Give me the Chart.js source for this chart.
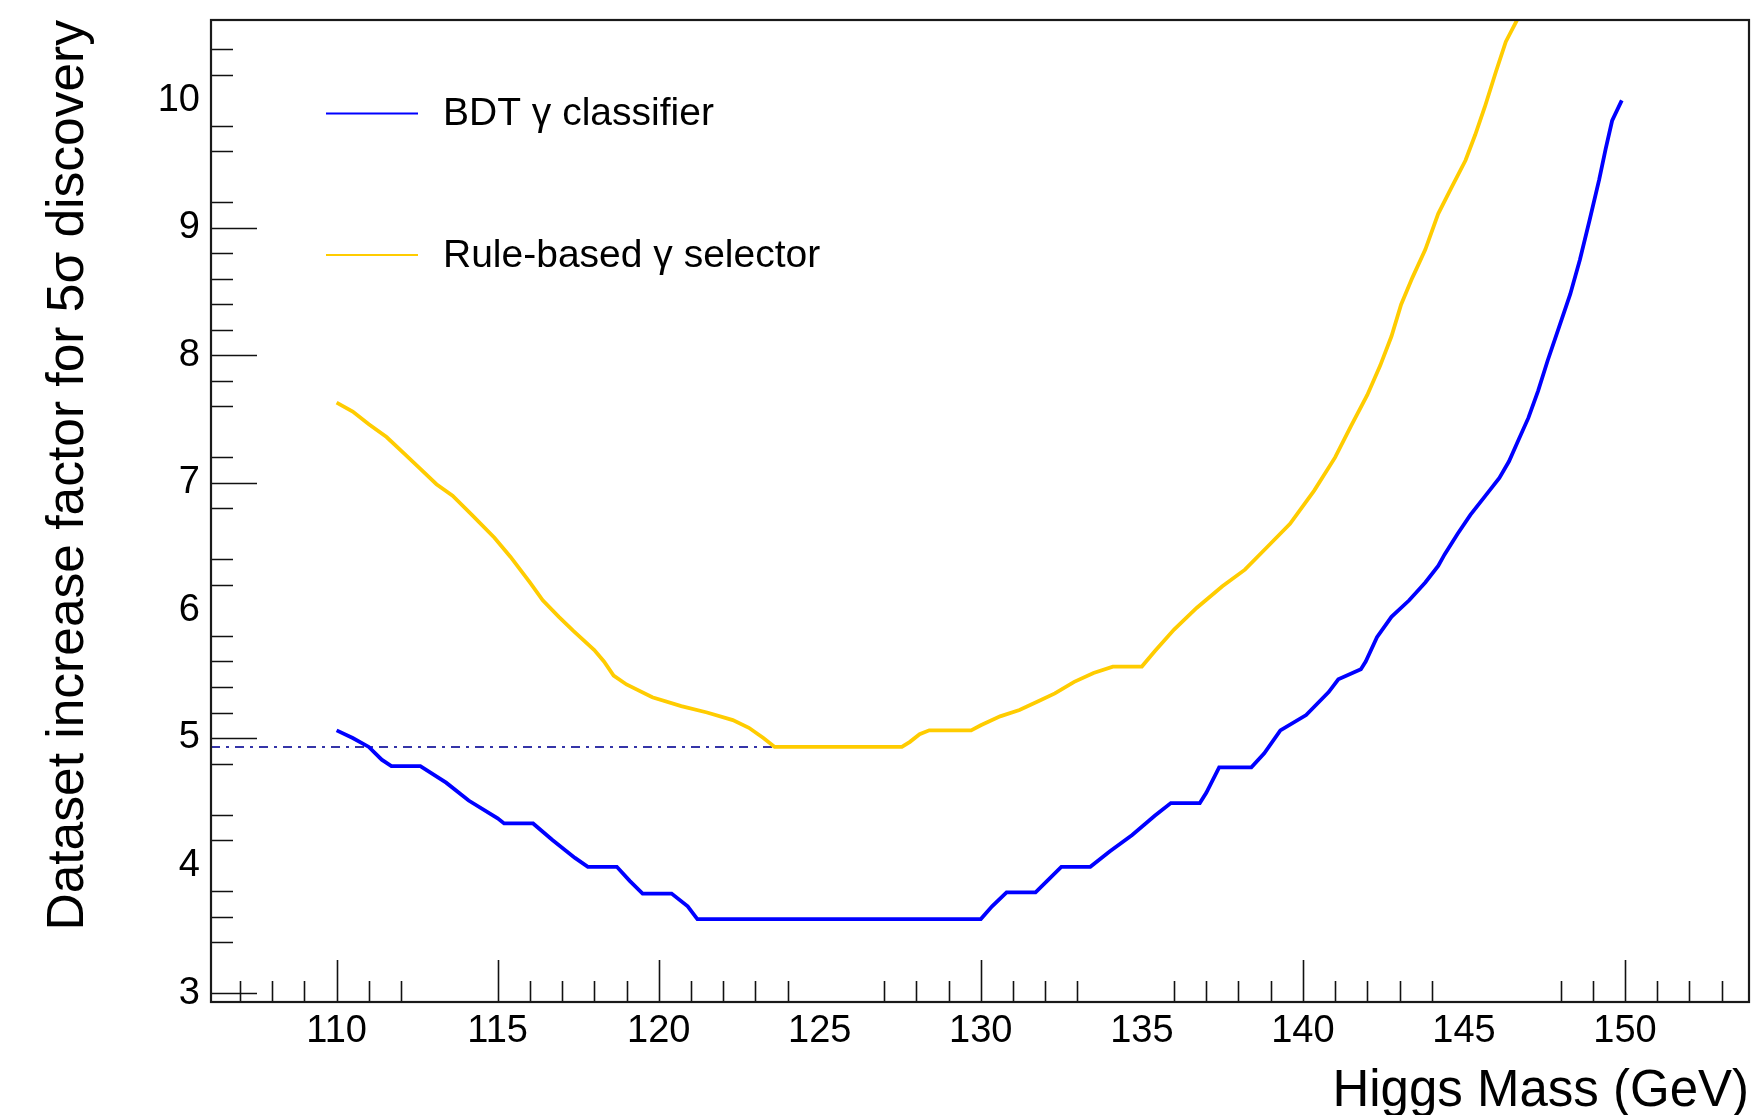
<!DOCTYPE html>
<html>
<head>
<meta charset="utf-8">
<title>Dataset increase factor for 5σ discovery</title>
<script src="https://cdn.jsdelivr.net/npm/chart.js@4.4.1/dist/chart.umd.min.js"></script>
<style>
  html, body { margin: 0; padding: 0; background: #ffffff; }
  #wrap { width: 1762px; height: 1115px; }
</style>
</head>
<body>
<div id="wrap"><canvas id="chart" width="1762" height="1115"></canvas></div>
<script>
// ---- data -------------------------------------------------------------
// BDT photon classifier: required dataset increase factor vs Higgs mass
const massBDT = [
  110.0, 110.5, 111.0, 111.4, 111.7, 112.6, 113.4, 114.1, 115.0, 115.2,
  116.1, 116.7, 117.4, 117.8, 118.7, 119.1, 119.5, 120.4, 120.9, 121.2,
  130.0, 130.35, 130.8, 131.7, 132.1, 132.5, 133.4, 134.0, 134.7, 135.4,
  135.9, 136.8, 137.0, 137.4, 138.4, 138.8, 139.3, 140.1, 140.8, 141.1,
  141.8, 141.95, 142.3, 142.75, 143.3, 143.8, 144.2, 144.4, 144.8, 145.2,
  145.7, 146.1, 146.4, 146.7, 147.0, 147.3, 147.6, 147.95, 148.3, 148.6,
  148.9, 149.2, 149.4, 149.6, 149.9
];
const factorBDT = [
  5.06, 5.00, 4.93, 4.83, 4.78, 4.78, 4.65, 4.51, 4.37, 4.33,
  4.33, 4.20, 4.06, 3.99, 3.99, 3.88, 3.78, 3.78, 3.68, 3.58,
  3.58, 3.68, 3.79, 3.79, 3.89, 3.99, 3.99, 4.11, 4.24, 4.39,
  4.49, 4.49, 4.57, 4.77, 4.77, 4.88, 5.06, 5.18, 5.36, 5.46,
  5.54, 5.60, 5.79, 5.95, 6.08, 6.22, 6.35, 6.44, 6.60, 6.75,
  6.91, 7.04, 7.17, 7.34, 7.51, 7.72, 7.96, 8.22, 8.48, 8.75,
  9.06, 9.38, 9.62, 9.84, 10.00
];

// Rule-based photon selector
const massRule = [
  110.0, 110.5, 111.0, 111.55, 112.1, 112.6, 113.1, 113.6, 114.2, 114.9,
  115.4, 116.0, 116.4, 116.9, 117.35, 118.0, 118.3, 118.6, 119.0, 119.8,
  120.7, 121.5, 122.3, 122.8, 123.25, 123.6, 127.55, 127.8, 128.1, 128.4,
  129.7, 130.0, 130.6, 131.2, 131.8, 132.3, 132.9, 133.5, 134.1, 135.0,
  135.4, 136.0, 136.7, 137.5, 138.2, 138.9, 139.6, 140.35, 141.0, 141.5,
  142.0, 142.4, 142.75, 143.05, 143.4, 143.8, 144.2, 144.6, 145.05, 145.35,
  145.65, 146.0, 146.3, 146.65, 147.0
];
const factorRule = [
  7.63, 7.56, 7.46, 7.36, 7.23, 7.11, 6.99, 6.90, 6.75, 6.57,
  6.42, 6.22, 6.08, 5.95, 5.84, 5.69, 5.60, 5.49, 5.42, 5.32,
  5.25, 5.20, 5.14, 5.08, 5.00, 4.93, 4.93, 4.97, 5.03, 5.06,
  5.06, 5.10, 5.17, 5.22, 5.29, 5.35, 5.44, 5.51, 5.56, 5.56,
  5.68, 5.85, 6.02, 6.19, 6.32, 6.50, 6.68, 6.94, 7.20, 7.45,
  7.69, 7.92, 8.15, 8.40, 8.61, 8.83, 9.11, 9.31, 9.53, 9.73,
  9.95, 10.23, 10.46, 10.63, 10.85
];

const seriesNames = ['BDT \u03b3 classifier', 'Rule-based \u03b3 selector'];

// axis labels and tick marks
const xLabels = [110, 115, 120, 125, 130, 135, 140, 145, 150];
const yLabels = [3, 4, 5, 6, 7, 8, 9, 10];
const xMajorTicks = [110, 115, 120, 130, 140, 150];
const xMinorTicks = [107, 108, 109, 111, 112, 116, 117, 118, 119, 121, 122, 123, 124,
                     127, 128, 129, 131, 132, 133, 136, 137, 138, 139, 141, 142, 143, 144,
                     148, 149, 151, 152, 153];
const yMajorTicks = [3, 5, 7, 8, 9];
const yMinorTicks = [3.4, 3.6, 3.8, 4.2, 4.4, 4.8, 5.2, 5.4, 5.6, 5.8, 6.2, 6.4, 6.8,
                     7.2, 7.6, 7.8, 8.2, 8.4, 8.6, 8.8, 9.2, 9.6, 9.8, 10.2, 10.4];

const xRange = [106.1, 153.85];
const yRange = [2.93, 10.63];

// ---- helpers ----------------------------------------------------------
const FONT = "'Liberation Sans', Arial, Helvetica, sans-serif";
const toPoints = (xs, ys) => xs.map((x, i) => ({ x: x, y: ys[i] }));

// best (lowest) factor reached by the rule-based selector
const ruleBest = Math.min(...factorRule);
const ruleBestMass = massRule[factorRule.indexOf(ruleBest)];

// Frame, inward tick marks and the in-plot legend, ROOT style
const rootStyle = {
  id: 'rootStyle',
  afterDatasetsDraw(chart, args, opts) {
    const { ctx, chartArea: a, scales: { x, y } } = chart;
    ctx.save();
    ctx.strokeStyle = '#111';
    ctx.lineWidth = 1.6;
    ctx.beginPath();
    xMajorTicks.forEach(v => { const px = Math.round(x.getPixelForValue(v)) + 0.5;
      ctx.moveTo(px, a.bottom); ctx.lineTo(px, a.bottom - opts.xMajor); });
    xMinorTicks.forEach(v => { const px = Math.round(x.getPixelForValue(v)) + 0.5;
      ctx.moveTo(px, a.bottom); ctx.lineTo(px, a.bottom - opts.xMinor); });
    yMajorTicks.forEach(v => { const py = Math.round(y.getPixelForValue(v)) + 0.5;
      ctx.moveTo(a.left, py); ctx.lineTo(a.left + opts.yMajor, py); });
    yMinorTicks.forEach(v => { const py = Math.round(y.getPixelForValue(v)) + 0.5;
      ctx.moveTo(a.left, py); ctx.lineTo(a.left + opts.yMinor, py); });
    ctx.stroke();

    ctx.lineWidth = 2.2;
    ctx.strokeStyle = '#1a1a1a';
    ctx.strokeRect(a.left, a.top, a.right - a.left, a.bottom - a.top);

    // legend
    ctx.font = opts.legendFont;
    ctx.textBaseline = 'middle';
    ctx.textAlign = 'left';
    ctx.fillStyle = '#000';
    opts.legendRows.forEach((rowY, i) => {
      const ds = chart.data.datasets[i];
      ctx.strokeStyle = ds.borderColor;
      ctx.lineWidth = 2;
      ctx.beginPath();
      ctx.moveTo(opts.legendLine[0], rowY);
      ctx.lineTo(opts.legendLine[1], rowY);
      ctx.stroke();
      ctx.fillText(ds.label, opts.legendText, rowY + 1);
    });
    ctx.restore();
  }
};

new Chart(document.getElementById('chart'), {
  type: 'scatter',
  data: {
    datasets: [
      {
        label: seriesNames[0],
        data: toPoints(massBDT, factorBDT),
        showLine: true,
        borderColor: '#0000ff',
        borderWidth: 3.8,
        pointRadius: 0,
        tension: 0
      },
      {
        label: seriesNames[1],
        data: toPoints(massRule, factorRule),
        showLine: true,
        borderColor: '#ffcc00',
        borderWidth: 3.8,
        pointRadius: 0,
        tension: 0
      },
      {
        label: 'rule-based minimum',
        data: [{ x: xRange[0], y: ruleBest }, { x: ruleBestMass, y: ruleBest }],
        showLine: true,
        borderColor: '#3535a8',
        borderWidth: 2,
        borderDash: [9, 6, 3, 6],
        pointRadius: 0
      }
    ]
  },
  options: {
    responsive: false,
    animation: false,
    devicePixelRatio: 1,
    layout: { padding: { top: 20, right: 13, bottom: 0, left: 0 } },
    plugins: {
      legend: { display: false },
      tooltip: { enabled: false },
      rootStyle: {
        xMajor: 42, xMinor: 21, yMajor: 46, yMinor: 22,
        legendFont: "39px " + FONT,
        legendRows: [113.5, 255],
        legendLine: [326, 418],
        legendText: 443
      }
    },
    scales: {
      x: {
        type: 'linear',
        min: xRange[0],
        max: xRange[1],
        afterFit(s) { s.height = 113; s.paddingLeft = 0; s.paddingRight = 0; },
        afterBuildTicks(s) { s.ticks = xLabels.map(v => ({ value: v })); },
        grid: { display: false, drawTicks: false },
        border: { display: false },
        ticks: {
          autoSkip: false, maxRotation: 0, padding: 7, color: '#000',
          font: { family: FONT, size: 38 },
          callback: v => String(v)
        },
        title: {
          display: true, text: 'Higgs Mass (GeV)', align: 'end', color: '#000',
          font: { family: FONT, size: 51, lineHeight: 1 },
          padding: { top: 0, bottom: -2 }
        }
      },
      y: {
        type: 'linear',
        min: yRange[0],
        max: yRange[1],
        afterFit(s) { s.width = 211; s.paddingTop = 0; s.paddingBottom = 0; },
        afterBuildTicks(s) { s.ticks = yLabels.map(v => ({ value: v })); },
        grid: { display: false, drawTicks: false },
        border: { display: false },
        ticks: {
          autoSkip: false, padding: 11, color: '#000',
          font: { family: FONT, size: 38 },
          callback: v => String(v)
        },
        title: {
          display: true, text: 'Dataset increase factor for 5\u03c3 discovery', align: 'end', color: '#000',
          font: { family: FONT, size: 51.5, lineHeight: 1 },
          padding: { top: 43, bottom: 0 }
        }
      }
    }
  },
  plugins: [rootStyle]
});
</script>
</body>
</html>
